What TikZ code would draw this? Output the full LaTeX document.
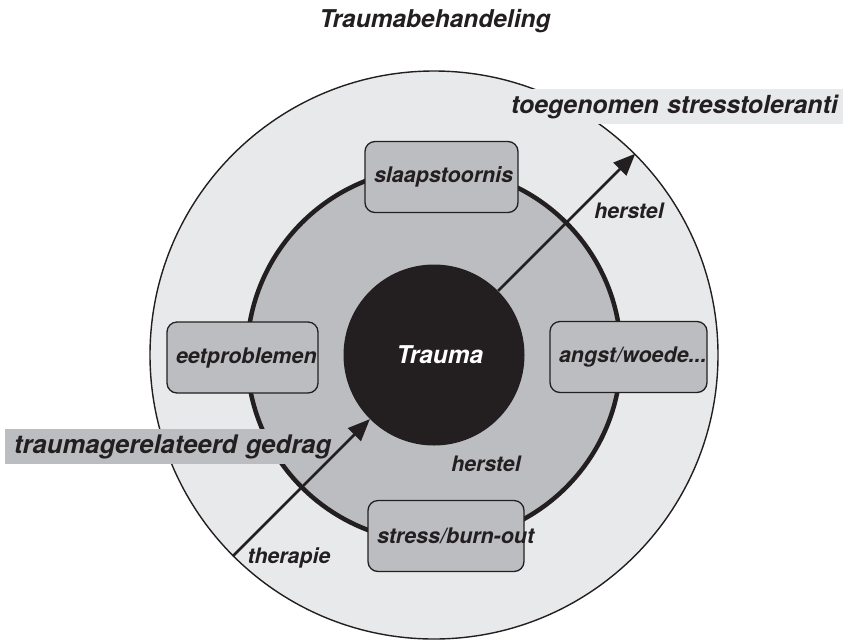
\documentclass[tikz,border=0pt]{standalone}
\usepackage{fontspec}
\setmainfont{TeX Gyre Heros}
\usetikzlibrary{arrows.meta}
\definecolor{lightfill}{HTML}{E8E9EA}
\definecolor{midfill}{HTML}{BCBDC0}
\definecolor{inkblack}{HTML}{231F20}
\tikzset{
  lbl/.style={font=\fontsize{21.3}{25}\selectfont\bfseries\itshape, text=inkblack, inner sep=0pt},
  probbox/.style={draw=inkblack, line width=1.3pt, fill=midfill, rounded corners=10pt,
    minimum height=71pt, inner xsep=9pt, inner ysep=0pt, align=left,
    font=\fontsize{21.5}{25}\selectfont\bfseries\itshape, text=inkblack},
  band/.style={inner xsep=9pt, inner ysep=0pt, minimum height=35pt, align=left, anchor=west,
    font=\fontsize{25.6}{29}\selectfont\bfseries\itshape, text=inkblack},
  arr/.style={line width=2.6pt, draw=inkblack, -{Triangle[length=22pt,width=18pt]}}
}
\begin{document}
\begin{tikzpicture}[x=1pt,y=-1pt]
\useasboundingbox (0,0) rectangle (843,641);
% rings
\node[circle, draw=inkblack, line width=1.4pt, fill=lightfill, minimum size=568pt, inner sep=0pt] (outer) at (434,355) {};
\node[circle, draw=inkblack, line width=4.5pt, fill=midfill, minimum size=374pt, inner sep=0pt] (middle) at (434,355) {};
\node[circle, fill=inkblack, minimum size=181pt, inner sep=0pt] (trauma) at (434,355) {};
\node[lbl, text=white, font=\fontsize{24.5}{28}\selectfont\bfseries\itshape, anchor=base] (traumatxt) at (440,363) {Trauma};
% title
\node[lbl, font=\fontsize{24.5}{28}\selectfont\bfseries\itshape, anchor=base] (title) at (435,27) {Traumabehandeling};
% problem boxes
\node[probbox, text width=135pt] (slaap) at (441.5,177) {\mbox{slaapstoornis}};
\node[probbox, text width=133pt] (eet) at (242.5,357.5) {\mbox{eetproblemen}};
\node[probbox, text width=139pt] (angst) at (628.5,357) {\mbox{angst/woede...}};
\node[probbox, text width=138pt] (stress) at (446,536) {\mbox{stress/burn-out}};
% bands
\node[band, fill=lightfill, text width=324pt, inner xsep=8pt, font=\fontsize{24.9}{29}\selectfont\bfseries\itshape] (tband) at (503,106.5) {\mbox{toegenomen stresstoleranti}};
\node[band, fill=midfill, text width=317pt] (gband) at (5,446.5) {\mbox{traumagerelateerd gedrag}};
% arrows
\draw[arr] (outer.225) -- (trauma.225);
\draw[arr] (trauma.45) -- (outer.45);
% arrow labels
\node[lbl, anchor=base] (herstel1) at (629,218) {herstel};
\node[lbl, anchor=base] (herstel2) at (486,471) {herstel};
\node[lbl, anchor=base] (therapie) at (289,563) {therapie};
\end{tikzpicture}
\end{document}
